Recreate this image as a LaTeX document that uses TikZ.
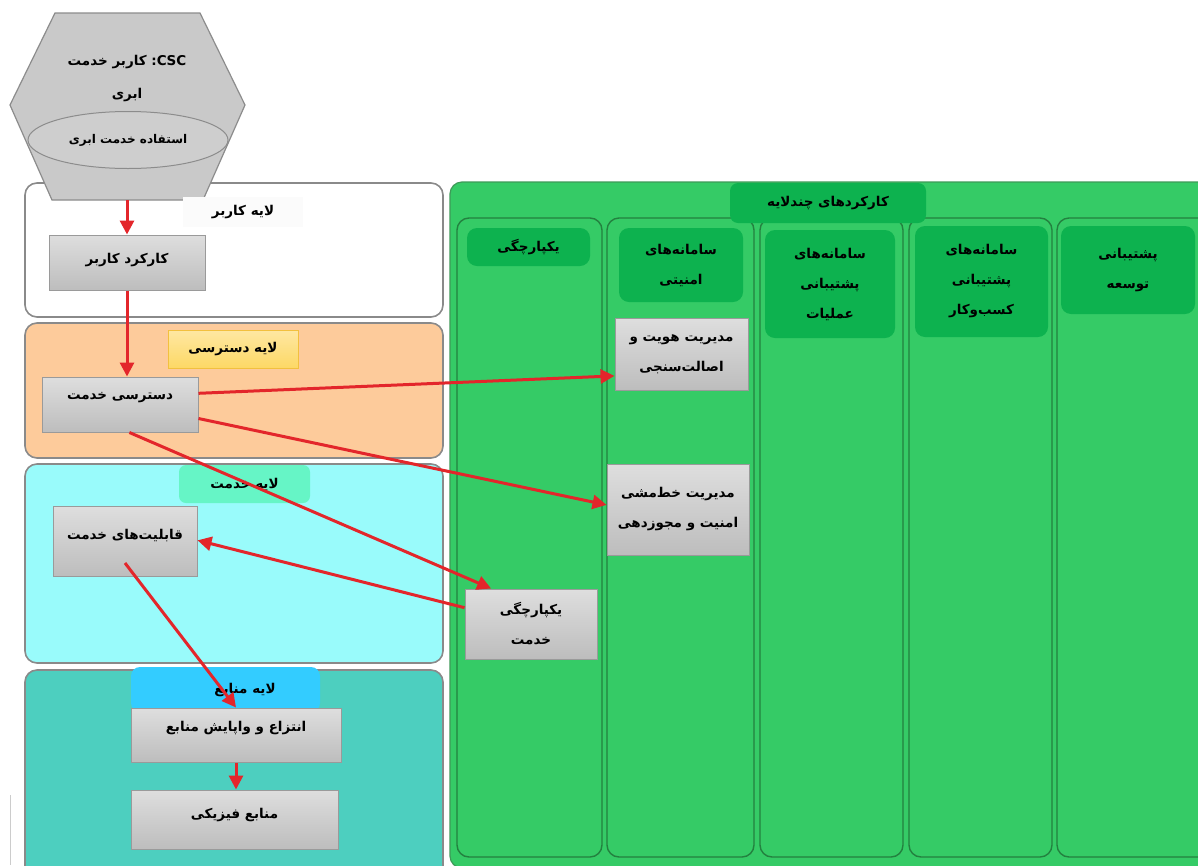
\documentclass[tikz,border=0pt]{standalone}
\usepackage{fontspec}
\usetikzlibrary{arrows.meta,calc,shapes.geometric}
\newfontfamily\fa[Script=Arabic]{DejaVu Sans}
\TeXXeTstate=1
\newcommand{\pr}[1]{\beginR #1\endR}
\definecolor{gtop}{HTML}{DEDEDE}
\definecolor{gbot}{HTML}{BDBDBD}
\definecolor{boxedge}{HTML}{9A9A9A}
\definecolor{layeredge}{HTML}{8A8A8A}
\definecolor{accessfill}{HTML}{FDCB9B}
\definecolor{servicefill}{HTML}{99FBFB}
\definecolor{resfill}{HTML}{4DCFBF}
\definecolor{bigreen}{HTML}{35CB66}
\definecolor{bigedge}{HTML}{3E9A58}
\definecolor{coledge}{HTML}{23813F}
\definecolor{hdrgreen}{HTML}{0DB24F}
\definecolor{arrred}{HTML}{E3262B}
\definecolor{yellowlab}{HTML}{FDD865}
\definecolor{yellowedge}{HTML}{F2C03E}
\definecolor{mintlab}{HTML}{66F5C6}
\definecolor{skylab}{HTML}{33CCFF}
\definecolor{hexfill}{HTML}{C9C9C9}
\definecolor{hexedge}{HTML}{8C8C8C}
\begin{document}
\begin{tikzpicture}[x=1pt,y=-1pt,
  txt/.style={font=\fa\bfseries\fontsize{13.5}{30}\selectfont, align=center, inner sep=0pt},
  graybox/.style={txt, draw=boxedge, line width=1pt, top color=gtop, bottom color=gbot, rectangle},
  layer/.style={draw=layeredge, line width=1.6pt, rounded corners=12pt},
  colbox/.style={draw=coledge, line width=1.4pt, rounded corners=12pt},
  hdr/.style={txt, fill=hdrgreen, rounded corners=10pt, rectangle},
  arr/.style={draw=arrred, line width=3pt, -{Triangle[length=14pt,width=14pt]}}
]
\useasboundingbox (0,0) rectangle (1198,865);
\clip (0,0) rectangle (1198,865);
\fill[white] (0,0) rectangle (1198,865);

% ---------- left layers ----------
\draw[layer, fill=white] (25,183) rectangle (443,317);
\draw[layer, fill=accessfill] (25,323) rectangle (443,458);
\draw[layer, fill=servicefill] (25,464) rectangle (443,663);
\draw[layer, fill=resfill] (25,670) rectangle (443,880);

% stray scan line
\draw[gray!40, line width=1pt] (10,795) -- (10,865);

% hexagon (CSC)
\draw[hexedge, line width=1.2pt, fill=hexfill]
  (55,13) -- (200,13) -- (245,105) -- (203,200) -- (52,200) -- (10,105) -- cycle;
\node[txt] (csct) at (127,62) {\pr{\beginL CSC\endL: کاربر خدمت}};
\node[txt] (csct2) at (127,95) {\pr{ابری}};
\node[ellipse, draw=hexedge, line width=1pt, fill=hexfill!90!white, minimum width=200pt, minimum height=57pt, inner sep=0pt] (use) at (128,140) {};
\node[txt, font=\fa\bfseries\fontsize{12}{20}\selectfont] (uset) at (128,140) {\pr{استفاده خدمت ابری}};
\coordinate (hexbot) at (127,200);

% layer labels
\node[txt, fill=white!97!gray, minimum width=120pt, minimum height=30pt] (lab1) at (243,212) {\pr{لایه کاربر}};
\node[txt, draw=yellowedge, line width=1pt, top color=yellowlab!60!white, bottom color=yellowlab, minimum width=130pt, minimum height=38pt] (lab2) at (233,349) {\pr{لایه دسترسی}};
\node[txt, fill=mintlab, rounded corners=7pt, minimum width=131pt, minimum height=38pt] (lab3) at (244.5,484) {\pr{لایه خدمت}};
\fill[skylab, rounded corners=9pt] (131,667) rectangle (320,712);
\node[txt] (lab4) at (245,690) {\pr{لایه منابع}};

% left gray nodes
\node[graybox, minimum width=156pt, minimum height=55pt, text depth=9pt] (ucase) at (127,262.5) {\pr{کارکرد کاربر}};
\node[graybox, minimum width=156pt, minimum height=55pt, text depth=17pt] (saccess) at (120,404.5) {\pr{دسترسی خدمت}};
\node[graybox, minimum width=144pt, minimum height=70pt, text depth=14pt] (scap) at (125,541) {\pr{قابلیت‌های خدمت}};
\node[graybox, minimum width=210pt, minimum height=54pt, text depth=17pt] (abs) at (236,735) {\pr{انتزاع و واپایش منابع}};
\node[graybox, minimum width=207pt, minimum height=59pt, text depth=12pt] (phys) at (234.5,819.5) {\pr{منابع فیزیکی}};

% ---------- right green area ----------
\draw[bigedge, line width=1.2pt, fill=bigreen, rounded corners=12pt] (450,182) rectangle (1215,868);
\draw[colbox] (457,218) rectangle (602,857);
\draw[colbox] (607,218) rectangle (754,857);
\draw[colbox] (760,218) rectangle (903,857);
\draw[colbox] (909,218) rectangle (1052,857);
\draw[colbox] (1057,218) rectangle (1215,857);
\node[hdr, minimum width=196pt, minimum height=40pt, rounded corners=8pt] (title) at (828,203) {\pr{کارکردهای چندلایه}};

\node[hdr, minimum width=123pt, minimum height=38pt] (h1) at (528.5,247) {\pr{یکپارچگی}};
\node[hdr, minimum width=124pt, minimum height=74pt] (h2) at (681,265) {\pr{سامانه‌های}\\\pr{امنیتی}};
\node[hdr, minimum width=130pt, minimum height=108pt] (h3) at (830,284) {\pr{سامانه‌های}\\\pr{پشتیبانی}\\\pr{عملیات}};
\node[hdr, minimum width=133pt, minimum height=111pt] (h4) at (981.5,281.5) {\pr{سامانه‌های}\\\pr{پشتیبانی}\\\pr{کسب‌وکار}};
\node[hdr, minimum width=134pt, minimum height=88pt] (h5) at (1128,270) {\pr{پشتیبانی}\\\pr{توسعه}};

\node[graybox, minimum width=133pt, minimum height=72pt] (idm) at (681.5,354) {\pr{مدیریت هویت و}\\\pr{اصالت‌سنجی}};
\node[graybox, minimum width=142pt, minimum height=91pt] (pol) at (678,509.5) {\pr{مدیریت خط‌مشی}\\\pr{امنیت و مجوزدهی}};
\node[graybox, minimum width=132pt, minimum height=70pt] (integ) at (531,624) {\pr{یکپارچگی}\\\pr{خدمت}};

% ---------- arrows ----------
\draw[arr] (hexbot) -- (ucase.north);
\draw[arr] (ucase.south) -- (ucase.south |- saccess.north);
\draw[arr] ($(saccess.north east)!0.3!(saccess.south east)$) -- ($(idm.north west)!0.8!(idm.south west)$);
\draw[arr] ($(saccess.north east)!0.75!(saccess.south east)$) -- ($(pol.north west)!0.45!(pol.south west)$);
\draw[arr] ($(saccess.south west)!0.56!(saccess.south east)$) -- ($(integ.north west)!0.2!(integ.north east)$);
\draw[arr] ($(integ.north west)!0.27!(integ.south west)$) -- ($(scap.north east)!0.49!(scap.south east)$);
\draw[arr] ($(scap.center)+(0,22)$) -- (abs.north);
\draw[arr] (abs.south) -- (abs.south |- phys.north);
\end{tikzpicture}
\end{document}
